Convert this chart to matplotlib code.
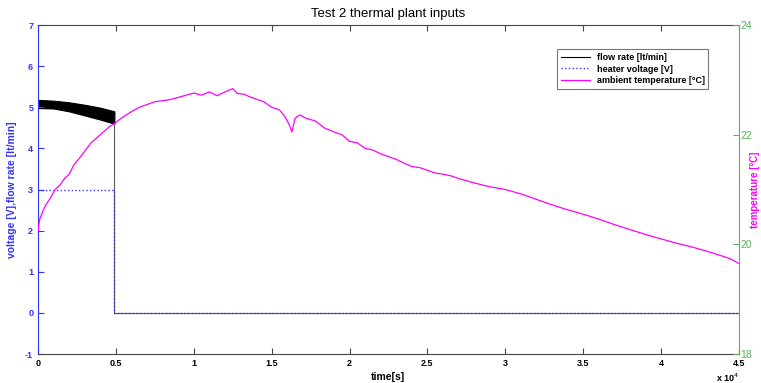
import matplotlib
matplotlib.use("Agg")
import matplotlib.pyplot as plt
from matplotlib.ticker import FuncFormatter
from matplotlib.lines import Line2D

plt.rcParams['font.family'] = ['Liberation Sans', 'DejaVu Sans']
plt.rcParams['axes.unicode_minus'] = False

# flow rate band (noisy) before the pump stops, time in seconds
flow_t = [0, 1000, 2000, 3000, 4000, 4900]
flow_hi = [5.18, 5.16, 5.12, 5.06, 4.99, 4.90]
flow_lo = [4.98, 4.97, 4.90, 4.80, 4.70, 4.60]
flow_off_t = [4900, 4900, 45000]
flow_off = [4.60, 0.0, 0.0]

# heater voltage
volt_t = [0, 4900, 4900, 45000]
volt = [3.0, 3.0, 0.0, 0.0]

# ambient temperature [C]
temp_t = [0, 100, 300, 500, 800, 1100, 1400, 1700, 2000, 2300, 2600, 3000, 3400, 3800,
          4200, 4600, 4900, 5200, 5600, 6000, 6500, 7000, 7500, 8000, 8500, 9000, 9500,
          10000, 10500, 11000, 11500, 12000, 12500, 12800, 13200, 13600, 14000, 14500,
          15000, 15500, 15800, 16100, 16300, 16500, 16800, 17200, 17800, 18400, 19000,
          19500, 20000, 20500, 21000, 21500, 22000, 22500, 23000, 23500, 24000, 24500,
          25000, 25500, 26000, 26500, 27000, 28000, 29000, 30000, 31000, 32000, 33000,
          34000, 35000, 36000, 37000, 38000, 39000, 40000, 41000, 42000, 43000, 44000,
          44500, 45000]
temp = [20.25, 20.45, 20.6, 20.72, 20.85, 21.0, 21.08, 21.2, 21.28, 21.45, 21.55, 21.7,
        21.85, 21.95, 22.05, 22.15, 22.2, 22.27, 22.35, 22.42, 22.5, 22.55, 22.6, 22.62,
        22.64, 22.68, 22.72, 22.76, 22.72, 22.78, 22.71, 22.78, 22.84, 22.75, 22.74,
        22.69, 22.65, 22.6, 22.5, 22.45, 22.35, 22.2, 22.05, 22.3, 22.36, 22.3, 22.25,
        22.12, 22.05, 22.0, 21.88, 21.85, 21.75, 21.72, 21.65, 21.6, 21.55, 21.48, 21.42,
        21.4, 21.35, 21.3, 21.28, 21.25, 21.2, 21.12, 21.05, 21.0, 20.92, 20.82, 20.72,
        20.63, 20.55, 20.46, 20.36, 20.27, 20.18, 20.1, 20.02, 19.95, 19.87, 19.78,
        19.73, 19.65]

blue = '#3333ff'
green = '#55b455'
magenta = '#ff00ff'

fig = plt.figure(figsize=(7.61, 3.83), dpi=100)
ax = fig.add_axes([0.050, 0.0757, 0.921, 0.859])

ax.fill_between(flow_t, flow_lo, flow_hi, color='black', linewidth=0.8)
ax.plot(flow_off_t, flow_off, color='#555555', linewidth=0.8)
ax.plot(volt_t, volt, color=blue, linestyle=':', linewidth=1.0)

ax.set_xlim(0, 45000)
ax.set_ylim(-1, 7)
ax.set_xticks([i * 5000 for i in range(10)])
ax.xaxis.set_major_formatter(FuncFormatter(lambda v, p: '%g' % (v / 1e4)))
ax.set_yticks(range(-1, 8))
ax.tick_params(axis='y', direction='in', colors=blue, right=True, length=4, labelsize=6.5)
ax.tick_params(axis='x', direction='in', top=True, length=4, labelsize=6.5, color='#444444')
for lab in ax.get_xticklabels() + ax.get_yticklabels():
    lab.set_fontweight('bold')
ax.spines['left'].set_color(blue)
ax.spines['top'].set_color('#444444')
ax.spines['bottom'].set_color('#444444')
ax.spines['right'].set_visible(False)
ax.set_xlabel('time[s]', fontsize=7.5, fontweight='bold', labelpad=3)
ax.set_ylabel('voltage [V],flow rate [lt/min]', fontsize=7.5, fontweight='bold',
              color=blue, labelpad=6)
ax.set_title('Test 2 thermal plant inputs', fontsize=9.5, pad=6)
ax.text(1.0, -0.072, 'x 10$^4$', transform=ax.transAxes, ha='right', va='center',
        fontsize=6.5, fontweight='bold')

ax2 = ax.twinx()
ax2.plot(temp_t, temp, color=magenta, linewidth=0.9)
ax2.set_ylim(18, 24)
ax2.set_yticks([18, 20, 22, 24])
ax2.tick_params(axis='y', direction='in', colors=green, length=4, labelsize=7.5, pad=1)
for s in ['left', 'top', 'bottom']:
    ax2.spines[s].set_visible(False)
ax2.spines['right'].set_color(green)
ax2.set_ylabel('temperature [\u00b0C]', fontsize=7, fontweight='bold', color=magenta)
ax2.yaxis.set_label_coords(1.0235, 0.5)
ax2.yaxis.label.set_va('center')

handles = [Line2D([], [], color='black', linewidth=0.8),
           Line2D([], [], color=blue, linestyle=':', linewidth=1.0),
           Line2D([], [], color=magenta, linewidth=0.9)]
labels = ['flow rate [lt/min]', 'heater voltage [V]', 'ambient temperature [\u00b0C]']
leg = ax2.legend(handles, labels, loc='upper right', bbox_to_anchor=(0.963, 0.94),
                 prop={'weight': 'bold', 'size': 6.5}, fancybox=False,
                 edgecolor='#555555', handlelength=3.2, borderpad=0.4, labelspacing=0.3)
leg.get_frame().set_linewidth(0.8)

fig.savefig('out.png', dpi=100)
